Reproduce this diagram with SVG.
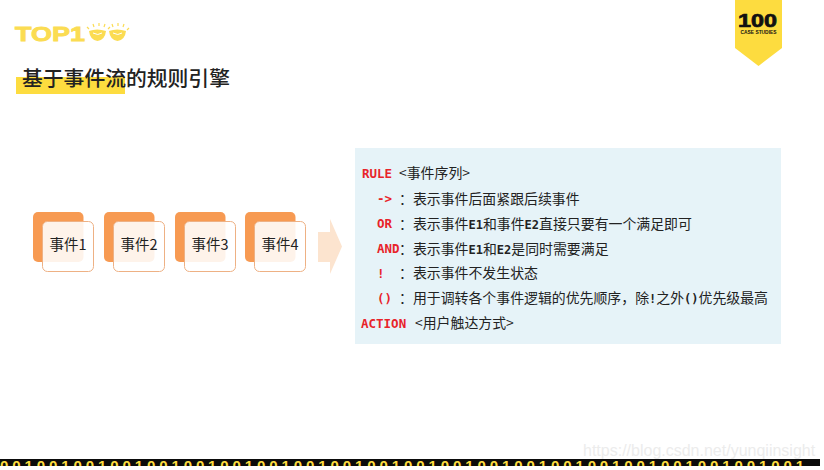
<svg xmlns="http://www.w3.org/2000/svg" width="824" height="470" viewBox="0 0 824 470">
<style>
text{font-family:"Noto Sans CJK SC","Noto Sans",sans-serif;fill:#222}
.back{fill:#f79a52}
.front{fill:#fff;fill-opacity:.88;stroke:#eeb184;stroke-width:1}
.ev{font-size:14.500px;text-anchor:middle}
.m{font-family:"DejaVu Sans Mono","Liberation Mono",monospace;font-size:12.500px;font-weight:700;fill:#e8232a}
.b{font-size:13.900px;fill:#222}
.bm{font-family:"DejaVu Sans Mono",monospace;font-weight:700;font-size:12px}
.ray{stroke:#fbdc52;stroke-width:1.200;fill:none}
</style>
<defs><clipPath id="band"><rect x="0" y="459" width="820" height="7"/></clipPath></defs>
<rect width="824" height="470" fill="#fff"/>
<g id="logo">
<text x="15" y="41" style="font-family:'Liberation Sans',sans-serif;font-weight:700;fill:#fbdc52;stroke:#fbdc52;stroke-width:.8px;font-size:20px" textLength="70" lengthAdjust="spacingAndGlyphs">TOP1</text>
<path d="M89 31q8-3 17 0q-1 9-8.500 10q-7.500-1-8.500-10zM109 31q8-3 17 0q-1 9-8.500 10q-7.500-1-8.500-10z" fill="#fbdc52"/>
<path d="M93 33q5 3 9 0M113 33q5 3 9 0" stroke="#fff" stroke-width="1" fill="none"/>
<path class="ray" d="M89 29l-2-2M94 27l-1-3M99 26v-3M104 27l1-3M108 29l2-2M113 27l-1-3M118 26v-3M123 27l1-3M127 30l2-2"/>
</g>
<g id="title">
<rect x="16" y="77" width="109" height="17" fill="#fddc3f"/>
<text x="22" y="86" style="font-size:20.800px;font-weight:500" fill="#222">基于事件流的规则引擎</text>
</g>
<g id="badge">
<path d="M735 0H782V48L758.500 66L735 48Z" fill="#fddc3f"/>
<text x="757.500" y="26.500" text-anchor="middle" style="font-family:'Liberation Sans',sans-serif;font-size:18px;font-weight:700;fill:#111;stroke:#111;stroke-width:.7px" textLength="39" lengthAdjust="spacingAndGlyphs">100</text>
<text x="758.500" y="34" text-anchor="middle" style="font-family:'Liberation Sans',sans-serif;font-size:4.500px;font-weight:700;fill:#111" textLength="36" lengthAdjust="spacingAndGlyphs">CASE STUDIES</text>
</g>
<g id="event1"><rect class="back" x="33" y="212" width="50.500" height="50" rx="5"/><rect class="front" x="42.500" y="221.500" width="51" height="50" rx="5"/><text class="ev" x="68" y="250">事件1</text></g>
<g id="event2"><rect class="back" x="104" y="212" width="50.500" height="50" rx="5"/><rect class="front" x="113.500" y="221.500" width="51" height="50" rx="5"/><text class="ev" x="139" y="250">事件2</text></g>
<g id="event3"><rect class="back" x="175" y="212" width="50.500" height="50" rx="5"/><rect class="front" x="184.500" y="221.500" width="51" height="50" rx="5"/><text class="ev" x="210" y="250">事件3</text></g>
<g id="event4"><rect class="back" x="245" y="212" width="50.500" height="50" rx="5"/><rect class="front" x="254.500" y="221.500" width="51" height="50" rx="5"/><text class="ev" x="280" y="250">事件4</text></g>
<g id="connectors"><path d="M318 232H330V219L342 246.500L330 274V262H318Z" fill="#fce4cf"/></g>
<g id="rules">
<rect x="355" y="148" width="426" height="196" fill="#e6f3f8"/>
<text class="m" x="362" y="178">RULE</text><text class="b" x="399" y="178">&lt;事件序列&gt;</text>
<text class="m" x="377" y="203">-&gt;</text><text class="b" x="399" y="204">：表示事件后面紧跟后续事件</text>
<text class="m" x="377" y="228">OR</text><text class="b" x="399" y="229">：表示事件<tspan class="bm">E1</tspan>和事件<tspan class="bm">E2</tspan>直接只要有一个满足即可</text>
<text class="m" x="377" y="253">AND</text><text class="b" x="399" y="254">：表示事件<tspan class="bm">E1</tspan>和<tspan class="bm">E2</tspan>是同时需要满足</text>
<text class="m" x="377" y="278">!</text><text class="b" x="399" y="278">：表示事件不发生状态</text>
<text class="m" x="377" y="303">()</text><text class="b" x="399" y="303">：用于调转各个事件逻辑的优先顺序，除<tspan class="bm">!</tspan>之外<tspan class="bm">()</tspan>优先级最高</text>
<text class="m" x="361" y="328">ACTION</text><text class="b" x="415" y="328">&lt;用户触达方式&gt;</text>
</g>
<g id="footer">
<rect x="0" y="459" width="820" height="7" fill="#0b0b0b"/>
<g clip-path="url(#band)"><text x="0" y="471" style="font-family:'Liberation Sans',sans-serif;font-size:15px;font-weight:700;fill:#fddc3f;letter-spacing:3.900px">001001001001001001001001001001001001001001001001001001001001001001</text></g>
<text x="583" y="456" style="font-family:'Liberation Sans',sans-serif;font-size:16px;fill:#ececec">https://blog.csdn.net/yunqiinsight</text>
</g>
</svg>
